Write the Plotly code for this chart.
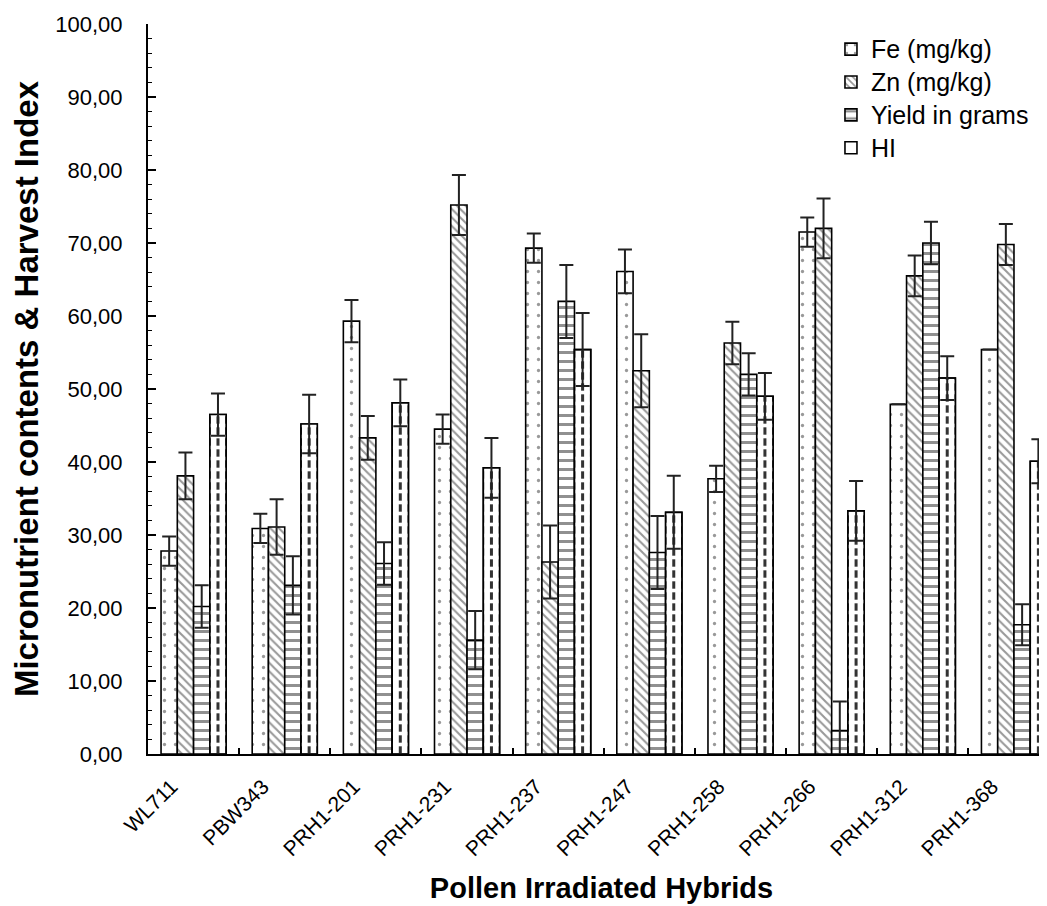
import plotly.graph_objects as go

categories = ["WL711", "PBW343", "PRH1-201", "PRH1-231", "PRH1-237",
              "PRH1-247", "PRH1-258", "PRH1-266", "PRH1-312", "PRH1-368"]
series_names = ["Fe (mg/kg)", "Zn (mg/kg)", "Yield in grams", "HI"]
fe = [27.8, 30.9, 59.3, 44.5, 69.3, 66.1, 37.7, 71.5, 47.9, 55.4]
fe_err = [2.0, 2.0, 2.9, 2.0, 2.0, 3.0, 1.8, 2.0, None, None]
zn = [38.1, 31.1, 43.3, 75.2, 26.3, 52.5, 56.3, 72.0, 65.5, 69.8]
zn_err = [3.2, 3.8, 3.0, 4.1, 5.0, 5.0, 2.9, 4.1, 2.8, 2.8]
yld = [20.2, 23.1, 26.1, 15.6, 62.0, 27.6, 52.0, 3.2, 70.0, 17.7]
yld_err = [2.9, 4.0, 2.9, 4.0, 5.0, 5.0, 2.9, 4.0, 2.9, 2.8]
hi = [46.5, 45.2, 48.1, 39.2, 55.4, 33.1, 49.0, 33.3, 51.5, 40.1]
hi_err = [2.9, 4.0, 3.2, 4.1, 5.0, 5.0, 3.2, 4.1, 3.0, 3.0]

FONT = "Liberation Sans, Arial, sans-serif"
OUT = dict(color="black", width=1.6)


def lname(s):
    return '<span style="font-size:25px">' + s + "</span>"


def err(vals):
    return dict(type="data", array=vals, visible=True, color="#222", thickness=2, width=7)


fig = go.Figure()
fig.add_trace(go.Bar(
    name=lname(series_names[0]), x=categories, y=fe, offsetgroup="fe",
    marker=dict(color="white", line=OUT,
                pattern=dict(shape=".", size=11, solidity=0.07, fgcolor="#333", bgcolor="white")),
    error_y=err(fe_err)))
fig.add_trace(go.Bar(
    name=lname(series_names[1]), x=categories, y=zn, offsetgroup="zn",
    marker=dict(color="white", line=OUT,
                pattern=dict(shape="\\", size=6, solidity=0.35, fgcolor="#333", bgcolor="white")),
    error_y=err(zn_err)))
fig.add_trace(go.Bar(
    name=lname(series_names[2]), x=categories, y=yld, offsetgroup="yl",
    marker=dict(color="white", line=OUT,
                pattern=dict(shape="-", size=9, solidity=0.33, fgcolor="#222", bgcolor="white")),
    error_y=err(yld_err)))
# HI: white bar with a centre line drawn from zero to the top
fig.add_trace(go.Bar(
    name=series_names[3], x=categories, y=hi, offsetgroup="hi", showlegend=False, hoverinfo="skip",
    marker=dict(color="white", line=OUT),
    error_y=dict(type="data", symmetric=False, array=[0 for _ in hi], arrayminus=hi,
                 color="#333", thickness=3, width=0)))
# white horizontal stripes to break the centre line into dashes
fig.add_trace(go.Bar(
    name=series_names[3], x=categories, y=hi, offsetgroup="hi", showlegend=False, hoverinfo="skip",
    marker=dict(color="rgba(0,0,0,0)", line=dict(width=0),
                pattern=dict(shape="-", size=11, solidity=0.33, fgcolor="white",
                             bgcolor="rgba(0,0,0,0)", fgopacity=1))))
# outline + error bars + legend entry
fig.add_trace(go.Bar(
    name=lname(series_names[3]), x=categories, y=hi, offsetgroup="hi",
    marker=dict(color="rgba(0,0,0,0)", line=OUT),
    error_y=err(hi_err)))

fig.update_layout(
    width=1047, height=906,
    margin=dict(l=140, r=0, t=16, b=160),
    paper_bgcolor="white", plot_bgcolor="white",
    barmode="group", bargap=0.286, bargroupgap=0,
    separators=",.",
    font=dict(family=FONT, size=18, color="black"),
    showlegend=True,
    legend=dict(x=0.753, y=0.995, xanchor="left", yanchor="top",
                font=dict(family=FONT, size=23, color="black"),
                bgcolor="rgba(0,0,0,0)", traceorder="normal", itemwidth=30),
    xaxis=dict(
        range=[-0.5, 9.45], showline=True, linecolor="black", linewidth=2,
        ticks="inside", tickson="boundaries", ticklen=6, tickwidth=1.5, tickcolor="black",
        tickangle=-45, tickfont=dict(family=FONT, size=21, color="black"),
        ticklabelshift=-22, ticklabelstandoff=10,
        title=dict(text="<b>Pollen Irradiated Hybrids</b>", font=dict(family=FONT, size=29),
                   standoff=18),
        showgrid=False, zeroline=False, automargin=False),
    yaxis=dict(
        range=[0, 100], dtick=10, tickformat=".2f", showline=True, linecolor="black",
        linewidth=2, ticks="inside", ticklen=8, tickwidth=1.5, tickcolor="black",
        minor=dict(dtick=2, ticks="inside", ticklen=4, tickwidth=1.2, tickcolor="black"),
        tickfont=dict(family=FONT, size=22, color="black"), ticklabelstandoff=19,
        title=dict(text="<b>Micronutrient contents &amp; Harvest Index</b>",
                   font=dict(family=FONT, size=33), standoff=12),
        showgrid=False, zeroline=False, automargin=False),
)

fig.write_html("out.html")
